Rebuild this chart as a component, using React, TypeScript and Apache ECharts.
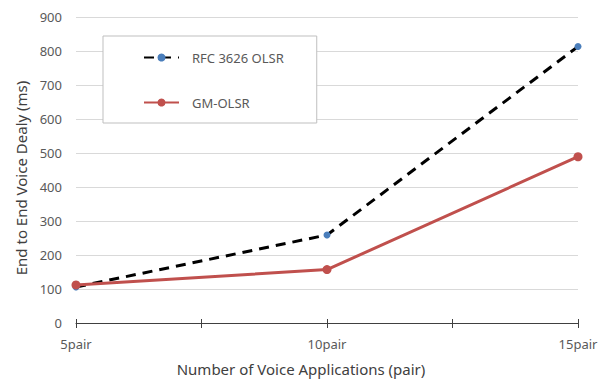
import React, { useEffect, useRef } from "react";
import * as echarts from "echarts";

const xValues = [5, 10, 15];
const xSuffix = "pair";
const rfcValues = [106, 259, 813];
const gmValues = [112, 157, 489];
const seriesNames = ["RFC 3626 OLSR", "GM-OLSR"];
const yTitle = "End to End Voice Dealy (ms)";
const xTitle = "Number of Voice Applications (pair)";

const FONT = "'Noto Sans', sans-serif";

export default function App() {
  const ref = useRef<HTMLDivElement>(null);
  useEffect(() => {
    document.body.style.margin = "0";
    const chart = echarts.init(ref.current!, null, { renderer: "svg" });
    const xAxisBase = {
      type: "value",
      min: 5,
      max: 15,
      interval: 2.5,
      splitLine: { show: false },
    };
    chart.setOption({
      animation: false,
      backgroundColor: "#ffffff",
      textStyle: { fontFamily: FONT },
      grid: {
        left: 76,
        right: 28,
        top: 17,
        bottom: 64,
        containLabel: false,
        outerBoundsMode: "none",
      },
      legend: {
        orient: "vertical",
        left: 103,
        top: 36,
        padding: [15, 33, 14, 40],
        itemGap: 32,
        itemWidth: 35,
        itemHeight: 10,
        borderColor: "#bfbfbf",
        borderWidth: 1,
        backgroundColor: "#ffffff",
        textStyle: { color: "#595959", fontSize: 13, fontFamily: FONT, padding: [0, 0, 0, 8] },
        data: seriesNames,
      },
      xAxis: [
        {
          ...xAxisBase,
          axisLine: { show: true, lineStyle: { color: "#404040", width: 1 } },
          axisTick: { show: true, length: 5, lineStyle: { color: "#404040" } },
          axisLabel: {
            color: "#595959",
            fontSize: 13,
            fontFamily: FONT,
            margin: 14,
            formatter: (v: number) => (v % 5 === 0 ? `${v}${xSuffix}` : ""),
          },
          name: xTitle,
          nameLocation: "middle",
          nameGap: 38,
          nameTextStyle: { color: "#404040", fontSize: 15, fontFamily: FONT, padding: [0, 52, 0, 0] },
        },
        {
          ...xAxisBase,
          position: "bottom",
          axisLine: { show: false },
          axisTick: { show: true, inside: true, length: 4, lineStyle: { color: "#404040" } },
          axisLabel: { show: false },
        },
      ],
      yAxis: {
        type: "value",
        min: 0,
        max: 900,
        interval: 100,
        axisLine: { show: false },
        axisTick: { show: false },
        splitLine: { lineStyle: { color: "#d9d9d9", width: 1 } },
        axisLabel: { color: "#595959", fontSize: 13, fontFamily: FONT, margin: 14 },
        name: yTitle,
        nameLocation: "middle",
        nameGap: 44,
        nameTextStyle: { color: "#404040", fontSize: 15, fontFamily: FONT, padding: [0, 16, 0, 0] },
      },
      series: [
        {
          name: seriesNames[0],
          type: "line",
          data: xValues.map((x, i) => [x, rfcValues[i]]),
          symbol: "circle",
          symbolSize: 7,
          itemStyle: { color: "#4a7ebb" },
          lineStyle: { color: "#000000", width: 3, type: [10, 7] },
          z: 3,
        },
        {
          name: seriesNames[1],
          type: "line",
          data: xValues.map((x, i) => [x, gmValues[i]]),
          symbol: "circle",
          symbolSize: 9,
          itemStyle: { color: "#c0504d" },
          lineStyle: { color: "#c0504d", width: 3 },
          z: 4,
        },
      ],
    });
    return () => chart.dispose();
  }, []);
  return <div ref={ref} style={{ width: 606, height: 387 }} />;
}
